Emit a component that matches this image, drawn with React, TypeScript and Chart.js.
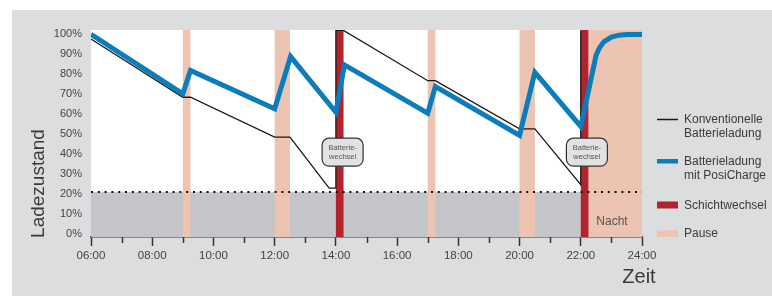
import React, { useEffect, useRef } from 'react';
import { Chart, registerables } from 'chart.js';

Chart.register(...registerables);

// ---------- data ----------
const xTickHours = [6, 8, 10, 12, 14, 16, 18, 20, 22, 24];
const xTickLabels = ['06:00', '08:00', '10:00', '12:00', '14:00', '16:00', '18:00', '20:00', '22:00', '24:00'];
const minorTickHours = [7, 9, 11, 13, 15, 17, 19, 21, 23];
const yTickValues = [0, 10, 20, 30, 40, 50, 60, 70, 80, 90, 100];

const conventionalHours = [6, 9, 9.25, 12, 12.5, 13.78, 14, 14, 14.25, 17, 17.25, 20, 20.5, 22, 22];
const conventionalValues = [97.7, 68.5, 68.5, 48.5, 48.5, 23, 23, 102, 102, 76.8, 76.8, 52.7, 52.7, 24.7, 102];

const posiHours = [6, 9, 9.25, 12, 12.52, 14, 14.28, 17, 17.25, 20, 20.5, 22, 22.5, 22.6, 22.75, 23, 23.25, 23.5, 24];
const posiValues = [100, 70.2, 81.9, 62.7, 88.9, 61, 84.7, 60.5, 73.9, 49.4, 81, 53.9, 89.5, 93, 96.3, 98.6, 99.6, 100, 100];

const thresholdValue = 21;
const pauseStarts = [9, 12, 17, 20, 22.25];
const pauseEnds = [9.25, 12.5, 17.25, 20.5, 24];
const shiftStarts = [14, 22];
const shiftEnds = [14.25, 22.25];
const calloutHours = [14.22, 22.2];
const calloutValue = 41;
const calloutLines = ['Batterie-', 'wechsel'];
const nightHour = 23.02;
const nightValue = 6.4;
const nightLabel = 'Nacht';
const legendLabels = [
  ['Konventionelle', 'Batterieladung'],
  ['Batterieladung', 'mit PosiCharge'],
  ['Schichtwechsel'],
  ['Pause'],
];
const yTitle = 'Ladezustand';
const xTitle = 'Zeit';

// ---------- styles ----------
const FONT = '"Liberation Sans", Arial, Helvetica, sans-serif';
const PANEL = '#dcdddf';
const BAND_GRAY = '#c4c5c8';
const PINK = '#edc3b1';
const RED = '#b1242b';
const BLUE = '#0b7dbb';
const BLACK = '#1a1a1a';
const TEXT = '#3a3a3a';

const decoPlugin = {
  id: 'deco',
  beforeDraw(chart: any) {
    const { ctx, chartArea: a } = chart;
    ctx.save();
    ctx.fillStyle = PANEL;
    ctx.fillRect(12, 10, chart.width - 12, chart.height - 10);
    ctx.fillStyle = '#ffffff';
    ctx.fillRect(a.left, a.top, a.right - a.left, a.bottom - a.top);
    ctx.restore();
  },
  beforeDatasetsDraw(chart: any) {
    const { ctx, chartArea: a, scales } = chart;
    const x = scales.x, y = scales.y;
    ctx.save();
    // threshold gray band
    const ty = y.getPixelForValue(thresholdValue);
    ctx.fillStyle = BAND_GRAY;
    ctx.fillRect(a.left, ty, a.right - a.left, a.bottom - ty);
    // pauses
    ctx.fillStyle = PINK;
    pauseStarts.forEach((s, i) => {
      const x0 = x.getPixelForValue(s), x1 = x.getPixelForValue(pauseEnds[i]);
      ctx.fillRect(x0, a.top, x1 - x0, a.bottom - a.top);
    });
    // shift changes
    ctx.fillStyle = RED;
    shiftStarts.forEach((s, i) => {
      const x0 = x.getPixelForValue(s), x1 = x.getPixelForValue(shiftEnds[i]);
      ctx.fillRect(x0, a.top, x1 - x0, a.bottom - a.top);
    });
    ctx.restore();
  },
  afterDatasetsDraw(chart: any) {
    const { ctx, scales } = chart;
    const x = scales.x, y = scales.y;
    ctx.save();
    // callouts
    calloutHours.forEach((h) => {
      const cx = x.getPixelForValue(h), cy = y.getPixelForValue(calloutValue);
      const w = 41, hgt = 28;
      ctx.beginPath();
      ctx.roundRect(cx - w / 2, cy - hgt / 2, w, hgt, 7);
      ctx.fillStyle = '#e1e2e4';
      ctx.fill();
      ctx.lineWidth = 1.2;
      ctx.strokeStyle = '#333333';
      ctx.stroke();
      ctx.fillStyle = '#555555';
      ctx.font = `7.5px ${FONT}`;
      ctx.textAlign = 'center';
      ctx.textBaseline = 'middle';
      ctx.fillText(calloutLines[0], cx, cy - 4.5);
      ctx.fillText(calloutLines[1], cx, cy + 4.5);
    });
    // night label
    ctx.fillStyle = '#555555';
    ctx.font = `12px ${FONT}`;
    ctx.textAlign = 'center';
    ctx.textBaseline = 'middle';
    ctx.fillText(nightLabel, x.getPixelForValue(nightHour), y.getPixelForValue(nightValue));
    ctx.restore();
  },
  afterDraw(chart: any) {
    const { ctx, chartArea: a, scales } = chart;
    const x = scales.x;
    ctx.save();
    // minor ticks
    ctx.strokeStyle = '#333333';
    ctx.lineWidth = 1.5;
    minorTickHours.forEach((h) => {
      const px = Math.round(x.getPixelForValue(h)) + 0.5;
      ctx.beginPath();
      ctx.moveTo(px, a.bottom);
      ctx.lineTo(px, a.bottom + 6);
      ctx.stroke();
    });
    // axis titles
    ctx.fillStyle = TEXT;
    ctx.font = `19px ${FONT}`;
    ctx.textAlign = 'center';
    ctx.textBaseline = 'middle';
    ctx.save();
    ctx.translate(39, 183.5);
    ctx.rotate(-Math.PI / 2);
    ctx.fillText(yTitle, 0, 0);
    ctx.restore();
    ctx.font = `20px ${FONT}`;
    ctx.fillText(xTitle, 639, 277);
    // legend
    const lx0 = 657, lx1 = 678, tx = 684;
    ctx.strokeStyle = BLACK;
    ctx.lineWidth = 1.5;
    ctx.beginPath();
    ctx.moveTo(lx0, 119.5);
    ctx.lineTo(lx1, 119.5);
    ctx.stroke();
    ctx.fillStyle = BLUE;
    ctx.fillRect(lx0, 159, lx1 - lx0, 4.5);
    ctx.fillStyle = RED;
    ctx.fillRect(lx0, 201.5, lx1 - lx0, 7);
    ctx.fillStyle = PINK;
    ctx.fillRect(lx0, 230.5, lx1 - lx0, 6.5);
    ctx.fillStyle = TEXT;
    ctx.font = `12px ${FONT}`;
    ctx.textAlign = 'left';
    ctx.textBaseline = 'middle';
    const ys = [[119.5, 133.5], [162, 176], [205.5], [234]];
    legendLabels.forEach((lines, i) => {
      lines.forEach((t, j) => ctx.fillText(t, tx, ys[i][j]));
    });
    ctx.restore();
  },
};

export default function App() {
  const ref = useRef<HTMLCanvasElement | null>(null);
  useEffect(() => {
    if (!ref.current) return;
    Chart.defaults.font.family = FONT;
    const chart = new Chart(ref.current, {
      type: 'line',
      data: {
        datasets: [
          {
            label: 'Batterieladung mit PosiCharge',
            data: posiHours.map((h, i) => ({ x: h, y: posiValues[i] })),
            borderColor: BLUE,
            borderWidth: 5,
            borderJoinStyle: 'miter',
            pointRadius: 0,
            tension: 0,
            order: 0,
          },
          {
            label: 'Konventionelle Batterieladung',
            data: conventionalHours.map((h, i) => ({ x: h, y: conventionalValues[i] })),
            borderColor: BLACK,
            borderWidth: 1.3,
            pointRadius: 0,
            tension: 0,
            order: 1,
          },
          {
            label: 'Grenze',
            data: [{ x: 6, y: thresholdValue }, { x: 24, y: thresholdValue }],
            borderColor: '#111111',
            borderWidth: 2,
            borderDash: [2, 4.8],
            pointRadius: 0,
            order: 2,
          },
        ],
      },
      options: {
        animation: false,
        responsive: false,
        events: [],
        layout: { padding: { top: 30, right: 130, left: 0, bottom: 0 } },
        plugins: { legend: { display: false }, tooltip: { enabled: false } },
        scales: {
          x: {
            type: 'linear',
            min: 6,
            max: 24,
            afterFit: (s: any) => { s.height = 59; },
            afterBuildTicks: (s: any) => { s.ticks = xTickHours.map((v) => ({ value: v })); },
            ticks: {
              callback: (_v: any, i: number) => xTickLabels[i],
              color: '#444444',
              font: { size: 11.5 },
              padding: 3,
              maxRotation: 0,
              autoSkip: false,
            },
            grid: { drawOnChartArea: false, drawTicks: true, tickLength: 9, color: '#333333', tickWidth: 1.5 },
            border: { display: true, color: '#333333', width: 1.5 },
          },
          y: {
            min: -1.5,
            max: 102.2,
            afterFit: (s: any) => { s.width = 91; },
            afterBuildTicks: (s: any) => { s.ticks = yTickValues.map((v) => ({ value: v })); },
            ticks: {
              callback: (v: any) => `${v}%`,
              color: '#444444',
              font: { size: 11 },
              padding: 9,
            },
            grid: { display: false, drawTicks: false },
            border: { display: false },
          },
        },
      },
      plugins: [decoPlugin],
    } as any);
    return () => chart.destroy();
  }, []);
  return (
    <div style={{ position: 'absolute', left: 0, top: 0, width: 772, height: 296 }}>
      <canvas ref={ref} width={772} height={296} style={{ width: 772, height: 296, display: 'block' }} />
    </div>
  );
}
